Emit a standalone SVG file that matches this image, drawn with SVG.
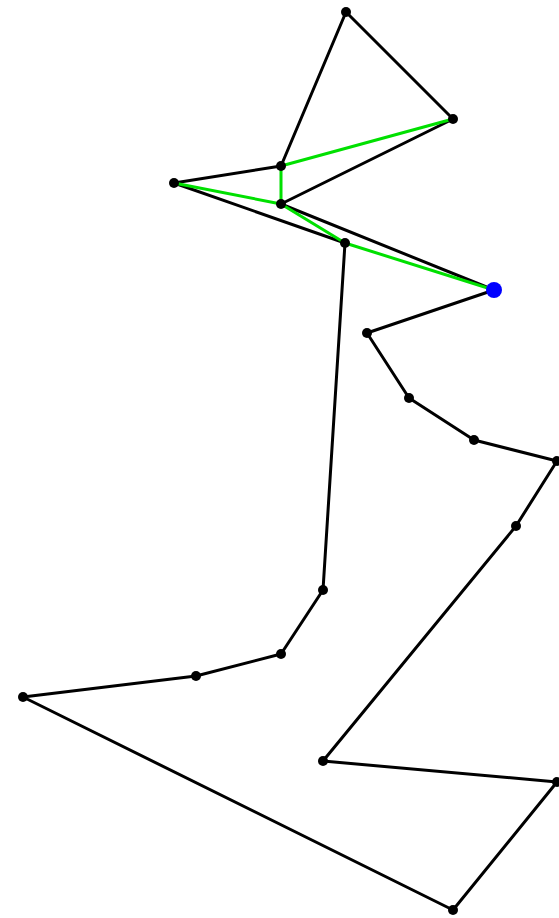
<svg xmlns="http://www.w3.org/2000/svg" width="559" height="918" viewBox="0 0 559 918">
<style>
.e{stroke:#000;stroke-width:3;fill:none;stroke-linecap:round}
.g{stroke:#00e000;stroke-width:3;fill:none;stroke-linecap:round}
.n{fill:#000}
.b{fill:#0000ff}
</style>
<rect width="559" height="918" fill="#fff"/>
<g id="connectors">
<line class="e" x1="346" y1="12" x2="453" y2="119"/>
<line class="e" x1="346" y1="12" x2="281" y2="166"/>
<line class="e" x1="281" y1="166" x2="174" y2="183"/>
<line class="e" x1="174" y1="183" x2="345" y2="243"/>
<line class="e" x1="453" y1="119" x2="281" y2="204"/>
<line class="e" x1="281" y1="204" x2="494" y2="290"/>
<line class="g" x1="281" y1="166" x2="453" y2="119"/>
<line class="g" x1="281" y1="166" x2="281" y2="204"/>
<line class="g" x1="174" y1="183" x2="281" y2="204"/>
<line class="g" x1="281" y1="204" x2="345" y2="243"/>
<line class="g" x1="345" y1="243" x2="494" y2="290"/>
<line class="e" x1="345" y1="243" x2="323" y2="590"/>
<line class="e" x1="323" y1="590" x2="281" y2="654"/>
<line class="e" x1="281" y1="654" x2="196" y2="676"/>
<line class="e" x1="196" y1="676" x2="23" y2="697"/>
<line class="e" x1="23" y1="697" x2="453" y2="910"/>
<line class="e" x1="453" y1="910" x2="557" y2="782"/>
<line class="e" x1="557" y1="782" x2="323" y2="761"/>
<line class="e" x1="323" y1="761" x2="516" y2="526"/>
<line class="e" x1="516" y1="526" x2="557" y2="461"/>
<line class="e" x1="557" y1="461" x2="474" y2="440"/>
<line class="e" x1="474" y1="440" x2="409" y2="398"/>
<line class="e" x1="409" y1="398" x2="367" y2="333"/>
<line class="e" x1="367" y1="333" x2="494" y2="290"/>
</g>
<g id="nA"><circle class="n" cx="346" cy="12" r="5"/></g>
<g id="nB"><circle class="n" cx="453" cy="119" r="5"/></g>
<g id="nC"><circle class="n" cx="281" cy="166" r="5"/></g>
<g id="nD"><circle class="n" cx="174" cy="183" r="5"/></g>
<g id="nE"><circle class="n" cx="281" cy="204" r="5"/></g>
<g id="nF"><circle class="n" cx="345" cy="243" r="5"/></g>
<g id="nG"><circle class="b" cx="494" cy="290" r="8"/></g>
<g id="nH"><circle class="n" cx="367" cy="333" r="5"/></g>
<g id="nI"><circle class="n" cx="409" cy="398" r="5"/></g>
<g id="nJ"><circle class="n" cx="474" cy="440" r="5"/></g>
<g id="nK"><circle class="n" cx="557" cy="461" r="5"/></g>
<g id="nL"><circle class="n" cx="516" cy="526" r="5"/></g>
<g id="nM"><circle class="n" cx="323" cy="590" r="5"/></g>
<g id="nN"><circle class="n" cx="281" cy="654" r="5"/></g>
<g id="nO"><circle class="n" cx="196" cy="676" r="5"/></g>
<g id="nP"><circle class="n" cx="23" cy="697" r="5"/></g>
<g id="nQ"><circle class="n" cx="323" cy="761" r="5"/></g>
<g id="nR"><circle class="n" cx="557" cy="782" r="5"/></g>
<g id="nS"><circle class="n" cx="453" cy="910" r="5"/></g>
</svg>
